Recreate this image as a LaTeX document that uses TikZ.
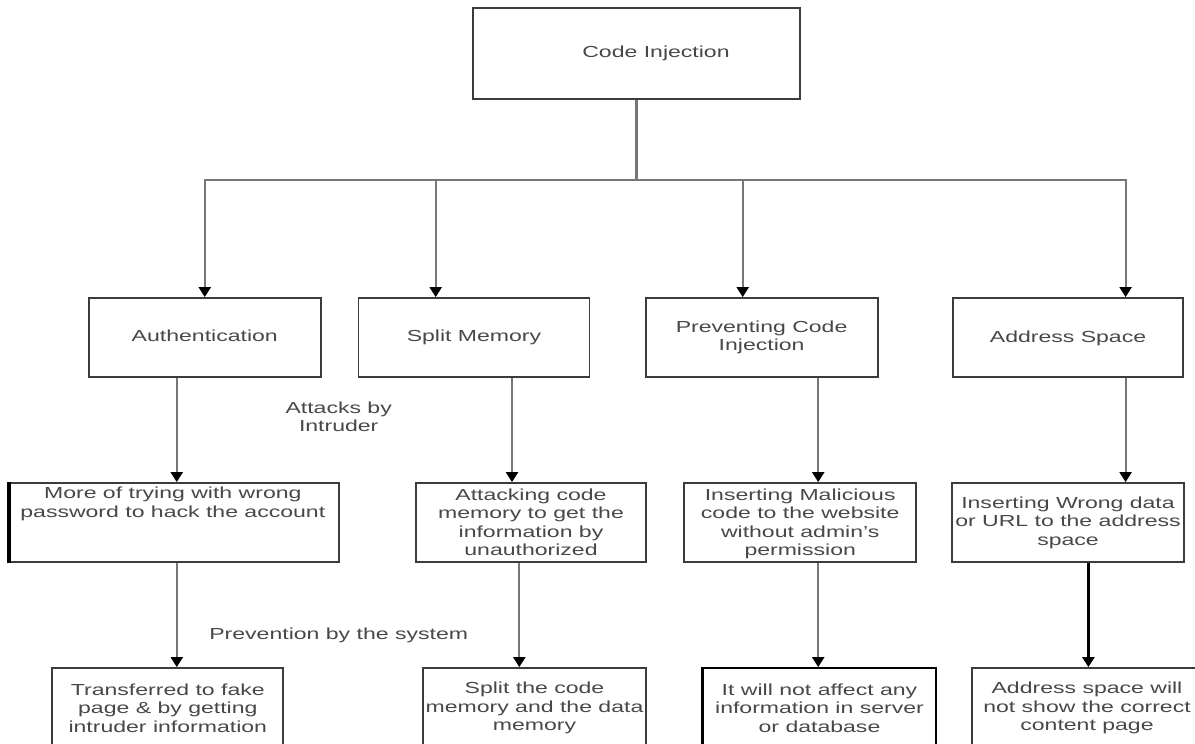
\documentclass[tikz,border=0pt]{standalone}
\usepackage{fontspec}
\setmainfont[FakeStretch=1.44]{Liberation Sans}
\usetikzlibrary{arrows.meta}
\definecolor{linegray}{HTML}{777777}
\definecolor{boxgray}{HTML}{3C3C3C}
\definecolor{txtgray}{HTML}{484848}
\begin{document}
\begin{tikzpicture}[x=1pt,y=-1pt,
  box/.style={draw=boxgray, line width=1.8pt, rectangle, inner sep=0pt},
  txt/.style={text=txtgray, font=\fontsize{16}{18.5}\selectfont, align=center, inner sep=0pt},
  one/.style={text height=11.5pt, text depth=3.4pt},
  conn/.style={draw=linegray, line width=2.1pt},
  arr/.style={conn, -{Triangle[width=12pt,length=10pt,color=black]}},
  darr/.style={draw=black, line width=2.6pt, -{Triangle[width=12pt,length=10pt,color=black]}},
  lbl/.style={txt}
]
\useasboundingbox (0,0) rectangle (1195,744);
\fill[white] (0,0) rectangle (1195,744);
\clip (0,0) rectangle (1195,744);

% root
\node[box, minimum width=327pt, minimum height=91pt,
  label={[txt,one,xshift=19.5pt]center:Code Injection}] (root) at (636.5,53.5) {};

% row 2
\node[box, minimum width=232pt, minimum height=79pt, label={[txt,one]center:Authentication}] (auth) at (204.75,337.5) {};
\node[box, minimum width=231pt, minimum height=79pt, label={[txt,one]center:Split Memory}] (split) at (474,337.5) {};
\node[box, minimum width=232pt, minimum height=79pt, label={[txt]center:{Preventing Code\\Injection}}] (prev) at (761.6,337.5) {};
\node[box, minimum width=230pt, minimum height=79pt, label={[txt,one,yshift=-1pt]center:Address Space}] (addr) at (1068,337.5) {};

% row 3
\node[box, minimum width=329pt, minimum height=79pt,
  label={[txt,xshift=-1.4pt,yshift=18.5pt]center:{More of trying with wrong\\password to hack the account}}] (try) at (174.2,522.5) {};
\node[box, minimum width=230pt, minimum height=79pt,
  label={[txt]center:{Attacking code\\memory to get the\\information by\\unauthorized}}] (attack) at (531,522.5) {};
\node[box, minimum width=232pt, minimum height=79pt,
  label={[txt,yshift=-1.5pt]center:{Inserting Malicious\\code to the website\\without admin's\\permission}}] (mal) at (800.2,522.5) {};
\node[box, minimum width=231.5pt, minimum height=79pt,
  label={[txt]center:{Inserting Wrong data\\or URL to the address\\space}}] (wrong) at (1068,522.5) {};

% row 4
\node[box, minimum width=231pt, minimum height=80pt,
  label={[txt]center:{Transferred to fake\\page \& by getting\\intruder information}}] (trans) at (167.8,708) {};
\node[box, minimum width=223pt, minimum height=80pt,
  label={[txt]center:{Split the code\\memory and the data\\memory}}] (split2) at (534.5,708) {};
\node[box, draw=black, minimum width=232.7pt, minimum height=80pt,
  label={[txt]center:{It will not affect any\\information in server\\or database}}] (notaff) at (819.5,708) {};
\node[box, minimum width=230pt, minimum height=80pt,
  label={[txt]center:{Address space will\\not show the correct\\content page}}] (show) at (1087,708) {};

% thick left edges
\draw[black, line width=3.5pt] (try.north west) -- (try.south west);
\draw[black, line width=3.5pt] (notaff.north west) -- (notaff.south west);

% edge labels
\node[lbl] (atk) at (338.7,417) {Attacks by\\Intruder};
\node[lbl,one] (prv) at (338.7,635) {Prevention by the system};

% root to row 2
\coordinate (bus) at (637,180);
\draw[conn] (root.south) -- (root.south |- bus);
\draw[arr] (bus) -| (auth.north);
\draw[arr] (bus) -| ([xshift=-38.3pt]split.north);
\draw[arr] (bus) -| ([xshift=-18.9pt]prev.north);
\draw[arr] (bus) -| ([xshift=57.6pt]addr.north);

% row 2 to row 3
\draw[arr] ([xshift=-28pt]auth.south) -- ([xshift=-28pt]auth.south |- try.north);
\draw[arr] ([xshift=38pt]split.south) -- ([xshift=38pt]split.south |- attack.north);
\draw[arr] ([xshift=56.6pt]prev.south) -- ([xshift=56.6pt]prev.south |- mal.north);
\draw[arr] ([xshift=57.6pt]addr.south) -- ([xshift=57.6pt]addr.south |- wrong.north);

% row 3 to row 4
\draw[arr] ([xshift=2.6pt]try.south) -- ([xshift=2.6pt]try.south |- trans.north);
\draw[arr] ([xshift=-11.7pt]attack.south) -- ([xshift=-11.7pt]attack.south |- split2.north);
\draw[arr] ([xshift=18pt]mal.south) -- ([xshift=18pt]mal.south |- notaff.north);
\draw[darr] ([xshift=20.4pt]wrong.south) -- ([xshift=20.4pt]wrong.south |- show.north);
\end{tikzpicture}
\end{document}
